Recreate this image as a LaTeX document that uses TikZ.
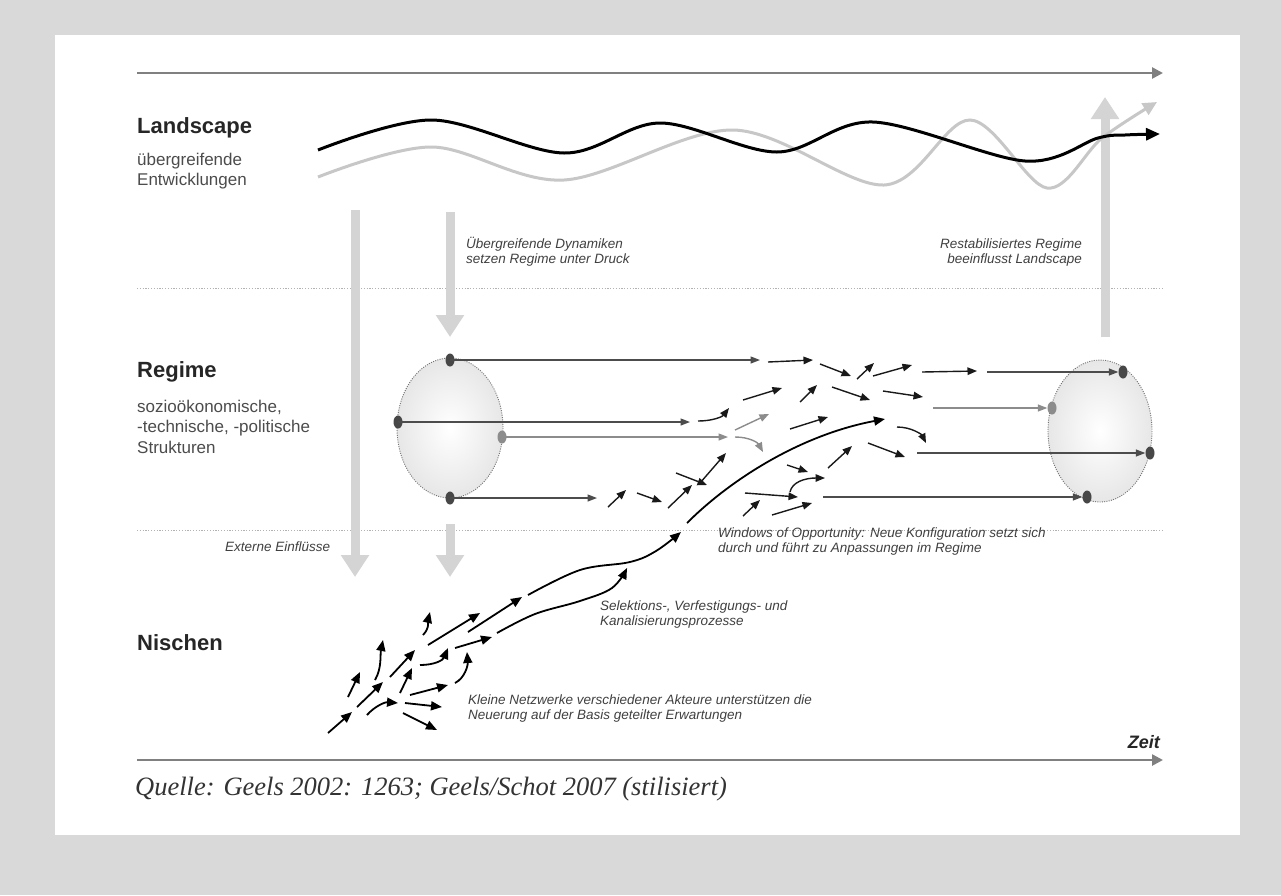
\documentclass[tikz,border=0pt]{standalone}
\usepackage{fontspec}
\setmainfont{Liberation Serif}
\setsansfont{Liberation Sans}
\usetikzlibrary{arrows.meta,shapes.geometric}
\pgfdeclareradialshading{ellsh}{\pgfpoint{0bp}{0bp}}{color(0bp)=(white); color(50bp)=(black!19); color(72bp)=(black!19)}
\begin{document}
\begin{tikzpicture}[x=1pt,y=-1pt,
 nar/.style={line width=1.8pt, black, -{Triangle[length=11pt,width=9pt]}},
 rar/.style={line width=1.4pt, black!90, -{Triangle[length=9.5pt,width=7.5pt]}},
 gar/.style={line width=1.4pt, black!45, -{Triangle[length=9.5pt,width=7.5pt]}},
 rline/.style={line width=1.3pt, black!70, -{Triangle[length=9.5pt,width=7pt]}},
 gline/.style={line width=1.3pt, black!45, -{Triangle[length=9.5pt,width=7pt]}},
 bigarr/.style={line width=9pt, black!17, -{Triangle[length=22pt,width=27pt]}},
 axisarr/.style={line width=2.5pt, black!50, -{Triangle[length=11pt,width=11pt]}},
 sepline/.style={line width=1pt, black!30, dash pattern=on 1.2pt off 1.6pt},
 dotdk/.style={ellipse, fill=black!72, minimum width=9pt, minimum height=13pt, inner sep=0pt},
 dotlt/.style={dotdk, fill=black!45},
 ellbox/.style={shade, shading=ellsh, draw=black!55, line width=0.9pt, dash pattern=on 1pt off 1.3pt},
 head/.style={anchor=base west, inner sep=0pt, font=\sffamily\bfseries\fontsize{22}{26}\selectfont, text=black!85},
 body/.style={anchor=base west, inner sep=0pt, font=\sffamily\fontsize{17}{20}\selectfont, text=black!70},
 lab/.style={inner sep=0pt, font=\sffamily\itshape\fontsize{13.5}{15}\selectfont, text=black!75}
]
\useasboundingbox (0,0) rectangle (1281,895);
\fill[black!15] (0,0) rectangle (1281,895);
\fill[white] (55,35) rectangle (1240,835);

% separators
\draw[sepline] (137,288) -- (1163,288);
\draw[sepline] (137,530) -- (1163,530);

% axes
\draw[axisarr] (137,73) -- (1163,73);
\draw[axisarr] (137,760) -- (1163,760);

% big gray arrows
\draw[bigarr] (355,210) -- (355,577);
\draw[bigarr] (450,212) -- (450,337);
\draw[bigarr] (450,524) -- (450,577);
\draw[bigarr] (1105,337) -- (1105,97);

% landscape waves
\draw[line width=3pt, black!22, -{Triangle[length=14pt,width=13pt]}] plot[smooth, tension=0.55] coordinates {(318,177) (432,147) (564,180) (733,130) (884,185) (970,120) (1047,188) (1102,138) (1157,102)};
\draw[line width=3pt, black, -{Triangle[length=14pt,width=12pt]}] plot[smooth, tension=0.55] coordinates {(318,150) (432,120) (564,153) (660,123) (777,152) (873,122) (1025,161) (1098,138) (1125,135) (1160,134)};

% regime ellipses
\path[ellbox] (450,428) ellipse [x radius=53, y radius=70];
\path[ellbox] (1100,431) ellipse [x radius=52, y radius=71];

% end points of regime lines
\coordinate (e1) at (760,360);
\coordinate (e2) at (690,422);
\coordinate (e3) at (728,437);
\coordinate (e4) at (597,498);
\coordinate (s1) at (987,372);
\coordinate (s2) at (933,408);
\coordinate (s3) at (917,453);
\coordinate (s4) at (823,497);

\node[dotdk] (L1) at (450,360) {};
\node[dotdk] (L2) at (398,422) {};
\node[dotlt] (L3) at (502,437) {};
\node[dotdk] (L4) at (450,498) {};
\node[dotdk] (R1) at (1123,372) {};
\node[dotlt] (R2) at (1052,408) {};
\node[dotdk] (R3) at (1150,453) {};
\node[dotdk] (R4) at (1087,497) {};

\draw[rline] (L1.center) -- (e1);
\draw[rline] (L2.center) -- (e2);
\draw[gline] (L3.center) -- (e3);
\draw[rline] (L4.center) -- (e4);
\draw[rline] (s1) -- (R1.west);
\draw[gline] (s2) -- (R2.west);
\draw[rline] (s3) -- (R3.west);
\draw[rline] (s4) -- (R4.west);

% regime short arrows
\draw[rar] (608,507) -- (626,490);
\draw[rar] (637,493) -- (662,502);
\draw[rar] (668,508) -- (692,485);
\draw[rar] (676,473) -- (707,485);
\draw[rar] (700,483) -- (726,453);
\draw[rar] (698,421) .. controls (712,421) and (722,417) .. (729,408);
\draw[rar] (743,400) -- (782,388);
\draw[gar] (735,430) -- (769,414);
\draw[gar] (735,437) .. controls (750,437) and (758,443) .. (763,452);
\draw[rar] (790,429) -- (828,417);
\draw[rar] (800,402) -- (817,385);
\draw[rar] (768,362) -- (813,360);
\draw[rar] (820,364) -- (851,376);
\draw[rar] (857,379) -- (874,363);
\draw[rar] (873,376) -- (912,365);
\draw[rar] (922,372) -- (977,371);
\draw[rar] (832,387) -- (870,400);
\draw[rar] (883,391) -- (923,397);
\draw[rar] (897,427) .. controls (912,427) and (922,435) .. (926,443);
\draw[rar] (868,443) -- (905,457);
\draw[rar] (787,465) -- (808,472);
\draw[rar] (828,468) -- (852,446);
\draw[rar] (790,492) .. controls (792,482) and (805,478) .. (825,478);
\draw[rar] (745,493) -- (798,497);
\draw[rar] (743,516) -- (760,500);
\draw[rar] (772,515) -- (812,503);

% long curves
\draw[nar] (687,523) .. controls (730,480) and (800,435) .. (885,419);
\draw[nar] plot[smooth, tension=0.6] coordinates {(528,595) (580,570) (630,562) (656,551) (681,532)};
\draw[nar] plot[smooth, tension=0.6] coordinates {(497,633) (535,614) (580,601) (612,588) (627,568)};

% niche arrows
\draw[nar] (328,733) -- (352,712);
\draw[nar] (357,707) -- (383,682);
\draw[nar] (348,697) -- (360,672);
\draw[nar] (367,715) .. controls (375,706) and (385,702) .. (398,703);
\draw[nar] (405,703) -- (442,707);
\draw[nar] (403,713) -- (437,730);
\draw[nar] (410,695) -- (448,685);
\draw[nar] (400,693) -- (412,668);
\draw[nar] (375,680) .. controls (382,668) and (380,655) .. (383,640);
\draw[nar] (390,677) -- (415,650);
\draw[nar] (420,665) .. controls (435,665) and (443,660) .. (448,648);
\draw[nar] (455,683) .. controls (465,678) and (468,665) .. (467,652);
\draw[nar] (455,648) -- (492,637);
\draw[nar] (423,635) .. controls (430,628) and (428,620) .. (430,612);
\draw[nar] (428,645) -- (480,613);
\draw[nar] (468,632) -- (522,597);

% texts
\node[head] (tland) at (137,133) {Landscape};
\node[body] (tland1) at (137,165) {übergreifende};
\node[body] (tland2) at (137,185) {Entwicklungen};
\node[head] (treg) at (137,377) {Regime};
\node[body] (treg1) at (137,412) {sozioökonomische,};
\node[body] (treg2) at (137,432) {-technische, -politische};
\node[body] (treg3) at (137,453) {Strukturen};
\node[head] (tnis) at (137,650) {Nischen};

\node[lab, anchor=base west, align=left] (tdyn) at (466,263) {Übergreifende Dynamiken\\setzen Regime unter Druck};
\node[lab, anchor=base east, align=right] (trest) at (1082,263) {Restabilisiertes Regime\\beeinflusst Landscape};
\node[lab, anchor=base west] (text) at (225,551) {Externe Einflüsse};
\node[lab, anchor=base west, align=left] (twin) at (718,552) {Windows of Opportunity: Neue Konfiguration setzt sich\\durch und führt zu Anpassungen im Regime};
\node[lab, anchor=base west, align=left] (tsel) at (600,625) {Selektions-, Verfestigungs- und\\Kanalisierungsprozesse};
\node[lab, anchor=base west, align=left] (tklein) at (468,719) {Kleine Netzwerke verschiedener Akteure unterstützen die\\Neuerung auf der Basis geteilter Erwartungen};
\node[anchor=base east, inner sep=0pt, font=\sffamily\bfseries\itshape\fontsize{18}{22}\selectfont, text=black!85] (tzeit) at (1160,748) {Zeit};
\node[anchor=base west, inner sep=0pt, font=\rmfamily\itshape\fontsize{26.5}{30}\selectfont, text=black!80] (tq) at (135,795) {Quelle: Geels 2002: 1263; Geels/Schot 2007 (stilisiert)};
\end{tikzpicture}
\end{document}
